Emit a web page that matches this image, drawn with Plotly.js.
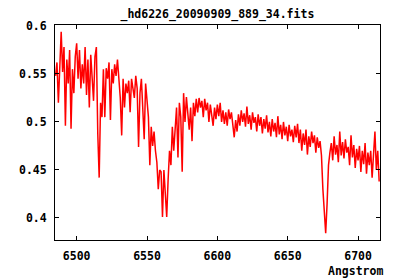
<!DOCTYPE html>
<html>
<head>
<meta charset="utf-8">
<script src="https://cdn.plot.ly/plotly-3.0.1.min.js"></script>
<style>html,body{margin:0;padding:0;background:#fff;}#chart{width:400px;height:280px;}</style>
</head>
<body>
<div id="chart"></div>
<script>
// Spectrum: flux sampled every 1 Angstrom starting at 6485 A
const wavelengthStart = 6485;
const wavelengthStep = 1;
const flux = [
  0.548, 0.562, 0.520, 0.566, 0.594, 0.552, 0.578, 0.496, 0.565, 0.540,
  0.575, 0.493, 0.555, 0.530, 0.568, 0.582, 0.545, 0.575, 0.535, 0.560,
  0.540, 0.578, 0.528, 0.565, 0.515, 0.570, 0.545, 0.522, 0.568, 0.578,
  0.488, 0.442, 0.520, 0.505, 0.555,
  0.505, 0.556, 0.545, 0.562, 0.502, 0.555, 0.540, 0.560, 0.548, 0.565,
  0.545, 0.525, 0.486, 0.545, 0.515, 0.540, 0.530, 0.543, 0.510, 0.545,
  0.535, 0.525, 0.548, 0.535, 0.474, 0.530, 0.545, 0.520, 0.482, 0.540,
  0.520, 0.505, 0.455, 0.495, 0.475, 0.490, 0.470, 0.458, 0.430, 0.450,
  0.448, 0.401, 0.450, 0.430, 0.401, 0.440, 0.470, 0.455, 0.495, 0.470,
  0.500, 0.515, 0.463, 0.520, 0.505, 0.448, 0.530, 0.500, 0.526, 0.505,
  0.492, 0.515, 0.480, 0.520, 0.506, 0.524, 0.510, 0.525, 0.515, 0.522,
  0.505, 0.524, 0.512, 0.520, 0.500, 0.518, 0.505, 0.496, 0.515, 0.503,
  0.518, 0.506, 0.520, 0.500, 0.512, 0.498, 0.510, 0.496, 0.513, 0.503,
  0.510, 0.497, 0.484, 0.502, 0.490, 0.508, 0.496, 0.512, 0.500, 0.509,
  0.495, 0.516, 0.498, 0.507, 0.492, 0.510, 0.499, 0.505, 0.490, 0.508,
  0.496, 0.505, 0.488, 0.503, 0.493, 0.507, 0.489, 0.500, 0.485, 0.503,
  0.490, 0.499, 0.484, 0.506, 0.487, 0.497, 0.482, 0.500, 0.486, 0.495,
  0.480, 0.497, 0.485, 0.492, 0.479, 0.496, 0.484, 0.498, 0.478, 0.492,
  0.470, 0.488, 0.476, 0.492, 0.466, 0.485, 0.474, 0.490, 0.478, 0.486,
  0.468, 0.484, 0.473, 0.480, 0.465, 0.430, 0.405, 0.384, 0.415, 0.455,
  0.468, 0.478, 0.460, 0.485, 0.466, 0.476, 0.458, 0.490, 0.465, 0.479,
  0.462, 0.482, 0.468, 0.474, 0.455, 0.486, 0.463, 0.476, 0.452, 0.472,
  0.460, 0.475, 0.448, 0.470, 0.456, 0.478, 0.446, 0.468, 0.455, 0.470,
  0.442, 0.465, 0.490, 0.450, 0.470, 0.438
];
const xTickValues = [6500, 6550, 6600, 6650, 6700];
const yTickValues = [0.4, 0.45, 0.5, 0.55, 0.6];
const titleText = "_hd6226_20090909_889_34.fits";
const xLabelText = "Angstrom";

const font = {family: "DejaVu Sans Mono", size: 11.5, color: "#000", weight: "bold"};

const trace = {
  type: "scatter",
  mode: "lines",
  x0: wavelengthStart,
  dx: wavelengthStep,
  y: flux,
  line: {color: "#ff0000", width: 1.5},
  hoverinfo: "skip"
};

const axisCommon = {
  showline: true, linecolor: "#000", linewidth: 1, mirror: "ticks",
  ticks: "inside", ticklen: 4, tickcolor: "#000", tickwidth: 1,
  showgrid: false, zeroline: false, tickfont: font, ticklabelstandoff: 5
};

const layout = {
  width: 400, height: 280,
  margin: {l: 55, r: 20, t: 25, b: 40},
  paper_bgcolor: "#fff", plot_bgcolor: "#fff",
  showlegend: false,
  font: font,
  title: {text: titleText, font: font, x: 0.5435, xanchor: "center", xref: "container",
          y: 0.95, yanchor: "middle", yref: "container"},
  xaxis: Object.assign({}, axisCommon, {range: [6484.6, 6715.6], tickmode: "array", tickvals: xTickValues}),
  yaxis: Object.assign({}, axisCommon, {range: [0.377, 0.601], tickmode: "array", tickvals: yTickValues,
          ticktext: yTickValues.map(String)}),
  annotations: [{
    text: xLabelText, showarrow: false, font: font,
    xref: "paper", yref: "paper", x: 1.0154, y: -0.144, xanchor: "right", yanchor: "middle"
  }]
};

Plotly.newPlot("chart", [trace], layout, {staticPlot: true, displayModeBar: false});
</script>
</body>
</html>
